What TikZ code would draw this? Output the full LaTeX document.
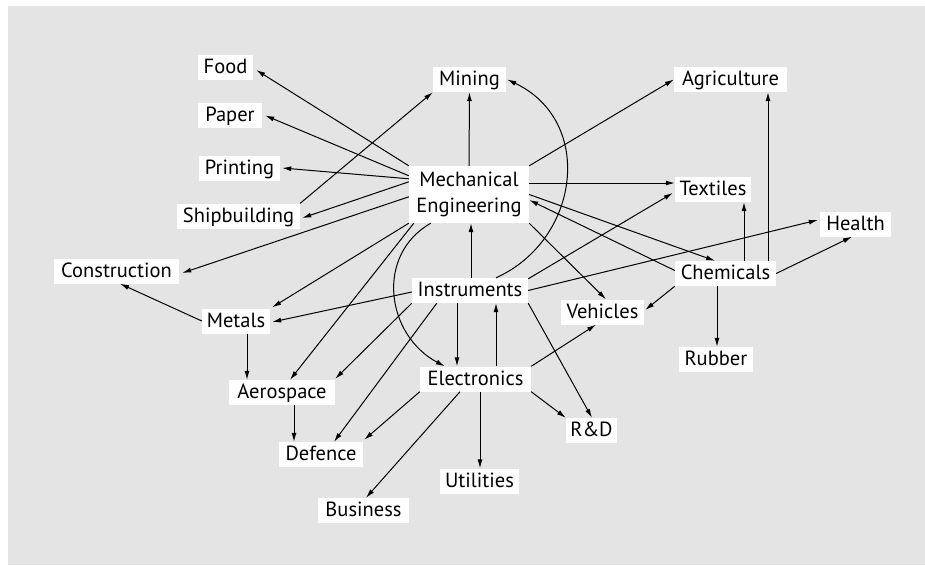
\documentclass[tikz,border=0pt]{standalone}
\usepackage{fontspec}
\newfontfamily\labelfont{PT Sans}
\usetikzlibrary{arrows.meta,calc}
\definecolor{bggray}{RGB}{228,228,228}
\tikzset{
  lbl/.style={fill=white, inner xsep=0pt, inner ysep=3pt, text height=15.5pt, text depth=3.5pt,
    font=\labelfont\fontsize{20.5}{26}\selectfont, anchor=center},
  lbltwo/.style={fill=white, inner sep=0pt, align=center, minimum height=57pt,
    font=\labelfont\fontsize{20.5}{26}\selectfont, anchor=center},
  conn/.style={-{Latex[length=9pt,width=5pt]}, line width=1pt},
}
\begin{document}
\begin{tikzpicture}[x=1pt,y=-1pt]
\useasboundingbox (0,0) rectangle (925,565);
\fill[bggray] (8,6) rectangle (925,565);

\node[lbl, minimum width=55pt]  (food)   at (225.5,67)   {Food};
\node[lbl, minimum width=64pt]  (paper)  at (230,115.5)  {Paper};
\node[lbl, minimum width=81pt]  (print)  at (239.5,168)  {Printing};
\node[lbl, minimum width=123pt] (ship)   at (238.5,216)  {Shipbuilding};
\node[lbl, minimum width=73pt]  (mining) at (469.5,79.5) {Mining};
\node[lbl, minimum width=113pt] (agri)   at (730.5,79.5) {Agriculture};
\node[lbltwo, minimum width=120pt] (me)  at (469,194.5)  {Mechanical\\Engineering};
\node[lbl, minimum width=76pt]  (text)   at (713,189.5)  {Textiles};
\node[lbl, minimum width=71pt]  (health) at (855.5,224)  {Health};
\node[lbl, minimum width=101pt] (chem)   at (725.5,273.5){Chemicals};
\node[lbl, minimum width=74pt]  (rubber) at (716,359.5)  {Rubber};
\node[lbl, minimum width=125pt] (constr) at (116.5,271)  {Construction};
\node[lbl, minimum width=68pt]  (metals) at (236,321)    {Metals};
\node[lbl, minimum width=116pt] (instr)  at (470,290.5)  {Instruments};
\node[lbl, minimum width=83pt]  (veh)    at (602.5,312)  {Vehicles};
\node[lbl, minimum width=106pt] (aero)   at (282,392.5)  {Aerospace};
\node[lbl, minimum width=111pt] (elec)   at (475.5,379)  {Electronics};
\node[lbl, minimum width=51pt]  (rd)     at (591.5,430.5){R\&D};
\node[lbl, minimum width=84pt]  (def)    at (321,454.5)  {Defence};
\node[lbl, minimum width=79pt]  (util)   at (479.5,481)  {Utilities};
\node[lbl, minimum width=91pt]  (bus)    at (363.5,510.5){Business};

% Mechanical Engineering
\draw[conn] (me.north west) -- ($(food.east)+(3,3)$);
\draw[conn] ($(me.north west)+(0,10)$) -- ($(paper.east)+(3,0)$);
\draw[conn] ($(me.north west)+(0,13)$) -- ($(print.east)+(2,0)$);
\draw[conn] ($(me.north west)+(0,16)$) -- ($(ship.east)+(2,2)$);
\draw[conn] ($(me.north west)+(0,31)$) -- ($(constr.east)+(3,2)$);
\draw[conn] (me.north) -- (mining.south);
\draw[conn] (me.north east) -- (agri.west);
\draw[conn] ($(me.east)+(0,-11.5)$) -- ($(text.west)+(0,-6.5)$);
\draw[conn] (me.east) -- ($(chem.north)+(-10.5,0)$);
\draw[conn] ($(chem.west)+(0,-3)$) -- ($(me.east)+(0,5.5)$);
\draw[conn] (me.south east) -- ($(veh.north)+(3.5,0)$);
\draw[conn] (me.south west) -- ($(metals.north east)+(2,-1)$);
\draw[conn] ($(me.south west)+(5,0)$) -- ($(aero.north)+(8,0)$);
\draw[conn] ($(me.south west)+(22,0)$) .. controls (375,255) and (386,335) .. ($(elec.north west)+(25,0)$);
\draw[conn] (ship.north east) -- (mining.south west);

% Instruments
\draw[conn] ($(instr.north)+(1,0)$) -- ($(me.south)+(2,0)$);
\draw[conn] ($(instr.north)+(26,0)$) .. controls (580,240) and (595,121) .. ($(mining.east)+(1,0)$);
\draw[conn] ($(instr.north east)+(0,1)$) -- ($(text.west)+(-2,3.5)$);
\draw[conn] (instr.east) -- ($(health.west)+(-2,-4)$);
\draw[conn] ($(instr.west)+(0,1.5)$) -- ($(metals.east)+(2,1)$);
\draw[conn] (instr.south west) -- ($(aero.north east)+(0,-1)$);
\draw[conn] ($(instr.south west)+(25,0)$) -- ($(def.north)+(13,0)$);
\draw[conn] ($(instr.south)+(-13,0)$) -- ($(elec.north)+(-18.5,0)$);
\draw[conn] ($(elec.north)+(20.5,0)$) -- ($(instr.south)+(26,0)$);
\draw[conn] (instr.south east) -- ($(rd.north)+(0.5,0)$);

% Electronics
\draw[conn] (elec.north east) -- ($(veh.south)+(-6.5,0)$);
\draw[conn] (elec.south east) -- (rd.north west);
\draw[conn] ($(elec.south)+(4.5,0)$) -- ($(util.north)+(0.5,0)$);
\draw[conn] (elec.south west) -- ($(def.north east)+(1,-2)$);
\draw[conn] ($(elec.south)+(-15.5,0)$) -- ($(bus.north)+(2.5,0)$);

% Chemicals
\draw[conn] ($(chem.north)+(18.5,0)$) -- ($(text.south)+(31,0)$);
\draw[conn] ($(chem.north)+(42.5,0)$) -- ($(agri.south)+(37.5,0)$);
\draw[conn] (chem.east) -- ($(health.south)+(-3.5,0)$);
\draw[conn] (chem.south west) -- ($(veh.east)+(1,-2)$);
\draw[conn] ($(chem.south)+(-8.5,0)$) -- ($(rubber.north)+(1,0)$);

% Metals, Aerospace
\draw[conn] (metals.west) -- ($(constr.south)+(3.5,0)$);
\draw[conn] ($(metals.south)+(11,0)$) -- ($(aero.north)+(-35,0)$);
\draw[conn] ($(aero.south)+(12,0)$) -- ($(def.north)+(-27,0)$);
\end{tikzpicture}
\end{document}
